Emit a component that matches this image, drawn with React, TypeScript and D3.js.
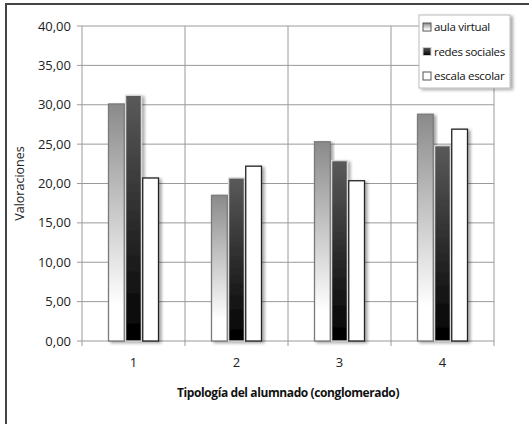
import React from "react";
import * as d3 from "d3";

const categories = ["1", "2", "3", "4"];
const seriesNames = ["aula virtual", "redes sociales", "escala escolar"];
const aulaVirtual = [30.1, 18.5, 25.3, 28.8];
const redesSociales = [31.2, 20.7, 22.9, 24.8];
const escalaEscolar = [20.7, 22.2, 20.35, 26.9];
const yTicks = [0, 5, 10, 15, 20, 25, 30, 35, 40];

const W = 529, H = 424;
const plot = { left: 82, right: 494, top: 26, bottom: 341 };

export default function App() {
  const x0 = d3.scaleBand().domain(categories).range([plot.left, plot.right]).paddingInner(0).paddingOuter(0);
  const x1 = d3.scaleBand().domain(seriesNames).range([0, 50]).paddingInner(0.08);
  const y = d3.scaleLinear().domain([0, 40]).range([plot.bottom, plot.top]);
  const series = [aulaVirtual, redesSociales, escalaEscolar];
  const fills = ["url(#gAula)", "url(#gRedes)", "#ffffff"];
  const strokes = ["#7a7a7a", "#d8d8d8", "#222"];
  const fmt = (v: number) => v.toFixed(2).replace(".", ",");
  const font = "'Open Sans', 'Liberation Sans', sans-serif";
  const bw = x0.bandwidth();
  return (
    <div style={{ position: "fixed", left: 0, top: 0 }}>
      <svg width={W} height={H} style={{ display: "block", background: "#fff" }} fontFamily={font}>
        <defs>
          <linearGradient id="gAula" x1="0" y1="0" x2="0" y2="1">
            <stop offset="0" stopColor="#8a8a8a" />
            <stop offset="0.85" stopColor="#ffffff" />
          </linearGradient>
          <linearGradient id="gRedes" x1="0" y1="0" x2="0" y2="1">
            <stop offset="0" stopColor="#5a5a5a" />
            <stop offset="1" stopColor="#000000" />
          </linearGradient>
          <filter id="sh" x="-30%" y="-10%" width="160%" height="130%">
            <feDropShadow dx="2.5" dy="1.5" stdDeviation="1.5" floodColor="#000" floodOpacity="0.35" />
          </filter>
        </defs>
        <rect x={6} y={4} width={540} height={440} fill="#fff" stroke="#444" strokeWidth={2} />
        {yTicks.map((t) => (
          <line key={"h" + t} x1={plot.left - 5} x2={plot.right} y1={y(t)} y2={y(t)} stroke="#9a9a9a" strokeWidth={1} />
        ))}
        {categories.map((c) => (
          <line key={"v" + c} x1={x0(c)! + bw} x2={x0(c)! + bw} y1={plot.top} y2={plot.bottom + 5} stroke="#9a9a9a" strokeWidth={1} />
        ))}
        <line x1={plot.left} x2={plot.left} y1={plot.top} y2={plot.bottom + 5} stroke="#9a9a9a" />
        {categories.map((c, ci) => (
          <g key={"c" + c}>
            {seriesNames.map((s, si) => {
              const v = series[si][ci];
              const bx = x0(c)! + (bw - 50) / 2 + x1(s)!;
              return (
                <rect key={s} x={bx} y={y(v)} width={x1.bandwidth()} height={y(0) - y(v)} fill={fills[si]} stroke={strokes[si]} strokeWidth={1.3} filter="url(#sh)" />
              );
            })}
          </g>
        ))}
        {yTicks.map((t) => (
          <text key={"yl" + t} x={71} y={y(t)} dy="0.35em" textAnchor="end" fontSize={13} fill="#222">{fmt(t)}</text>
        ))}
        {categories.map((c) => (
          <text key={"xl" + c} x={x0(c)! + bw / 2} y={367} textAnchor="middle" fontSize={13} fill="#222">{c}</text>
        ))}
        <text transform={`translate(24,${(plot.top + plot.bottom) / 2}) rotate(-90)`} textAnchor="middle" fontSize={12.5} fill="#222">Valoraciones</text>
        <text x={(plot.left + plot.right) / 2} y={397} textAnchor="middle" fontSize={12} fontWeight="bold" letterSpacing={-0.4} fill="#111">Tipología del alumnado (conglomerado)</text>
        <g>
          <rect x={419} y={15} width={91} height={73} fill="#fff" stroke="#bbb" filter="url(#sh)" />
          {seriesNames.map((s, si) => (
            <g key={"lg" + s} transform={`translate(423,${27 + si * 24.5})`}>
              <rect x={0} y={-4} width={8} height={8} fill={fills[si]} stroke={si === 1 ? "#ccc" : "#555"} strokeWidth={1} />
              <text x={11} y={0} dy="0.35em" fontSize={11.5} letterSpacing={-0.3} fill="#111">{s}</text>
            </g>
          ))}
        </g>
      </svg>
    </div>
  );
}
